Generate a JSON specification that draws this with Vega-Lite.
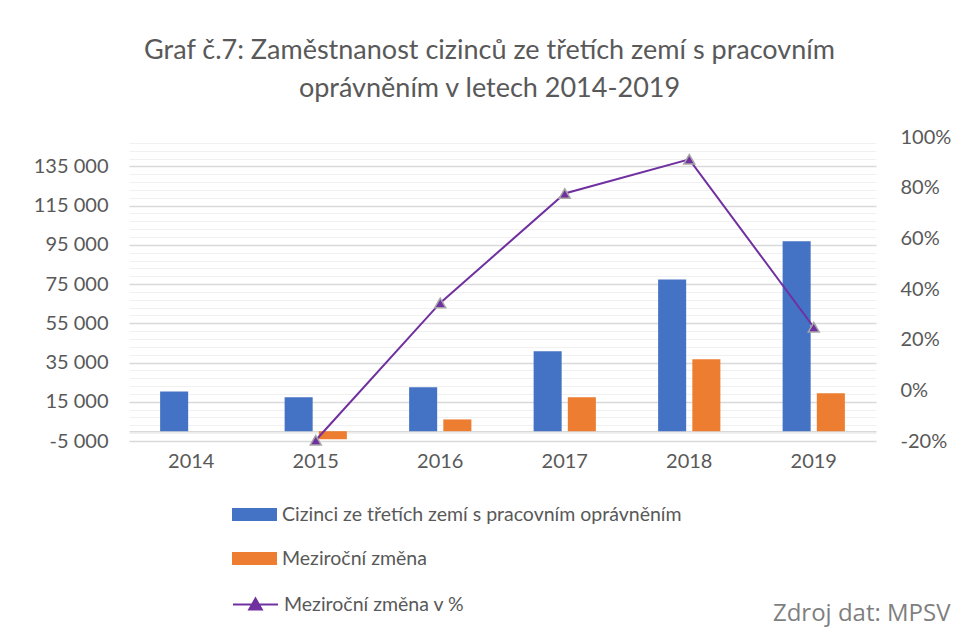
{
  "$schema": "https://vega.github.io/schema/vega-lite/v6.json",
  "width": 747,
  "height": 304,
  "autosize": {"type": "none"},
  "padding": {"left": 129, "top": 137, "right": 78, "bottom": 192},
  "background": "white",
  "config": {
    "locale": {"number": {"decimal": ",", "thousands": " ", "grouping": [3], "currency": ["", " Kč"], "minus": "-"}},
    "view": {"stroke": null},
    "font": "Lato",
    "axis": {"labelFont": "Lato", "labelColor": "#595959"}
  },
  "title": {
    "text": ["Graf č.7: Zaměstnanost cizinců ze třetích zemí s pracovním", "oprávněním v letech 2014-2019"],
    "font": "Lato",
    "fontSize": 27,
    "fontWeight": "normal",
    "color": "#595959",
    "lineHeight": 38,
    "anchor": "middle",
    "dx": -13,
    "offset": 24
  },
  "datasets": {
    "bars": [
      {"year": "2014", "series": "Cizinci ze třetích zemí s pracovním oprávněním", "value": 20300},
      {"year": "2015", "series": "Cizinci ze třetích zemí s pracovním oprávněním", "value": 17350},
      {"year": "2015", "series": "Meziroční změna", "value": -4100},
      {"year": "2016", "series": "Cizinci ze třetích zemí s pracovním oprávněním", "value": 22350},
      {"year": "2016", "series": "Meziroční změna", "value": 6000},
      {"year": "2017", "series": "Cizinci ze třetích zemí s pracovním oprávněním", "value": 40700},
      {"year": "2017", "series": "Meziroční změna", "value": 17300},
      {"year": "2018", "series": "Cizinci ze třetích zemí s pracovním oprávněním", "value": 77400},
      {"year": "2018", "series": "Meziroční změna", "value": 36650},
      {"year": "2019", "series": "Cizinci ze třetích zemí s pracovním oprávněním", "value": 96800},
      {"year": "2019", "series": "Meziroční změna", "value": 19300}
    ],
    "line": [
      {"year": "2015", "series": "Meziroční změna v %", "pct": -0.197},
      {"year": "2016", "series": "Meziroční změna v %", "pct": 0.345},
      {"year": "2017", "series": "Meziroční změna v %", "pct": 0.777},
      {"year": "2018", "series": "Meziroční změna v %", "pct": 0.912},
      {"year": "2019", "series": "Meziroční změna v %", "pct": 0.249}
    ]
  },
  "encoding": {
    "x": {
      "field": "year",
      "type": "ordinal",
      "scale": {"domain": ["2014", "2015", "2016", "2017", "2018", "2019"], "paddingInner": 0.5, "paddingOuter": 0.25},
      "axis": {
        "labelFontSize": 20,
        "labelColor": "#595959",
        "labelAngle": 0,
        "ticks": false,
        "domain": true,
        "domainColor": "#d9d9d9",
        "domainWidth": 1.5,
        "offset": -9.8,
        "labelPadding": 20,
        "title": "Zdroj dat: MPSV",
        "titleFont": "Open Sans",
        "titleFontSize": 24,
        "titleFontWeight": "normal",
        "titleColor": "#7f7f7f",
        "titleAnchor": "end",
        "titleAlign": "right",
        "titleBaseline": "alphabetic",
        "titleX": 821,
        "titleY": 189
      }
    }
  },
  "layer": [
    {
      "data": {"name": "bars"},
      "mark": {"type": "bar", "opacity": 0},
      "encoding": {
        "xOffset": {
          "field": "series",
          "sort": ["Cizinci ze třetích zemí s pracovním oprávněním", "Meziroční změna"],
          "scale": {"paddingInner": 0.18}
        },
        "y": {
          "field": "value",
          "type": "quantitative",
          "stack": null,
          "scale": {"domain": [-5000, 150000], "nice": false},
          "axis": {
            "orient": "left",
            "title": null,
            "values": [-1000, 3000, 7000, 11000, 19000, 23000, 27000, 31000, 39000, 43000, 47000, 51000, 59000, 63000, 67000, 71000, 79000, 83000, 87000, 91000, 99000, 103000, 107000, 111000, 119000, 123000, 127000, 131000, 139000, 143000, 147000],
            "labels": false,
            "grid": true,
            "gridColor": "#f0f0f0",
            "gridWidth": 1,
            "ticks": false,
            "domain": false
          }
        }
      }
    },
    {
      "data": {"name": "bars"},
      "mark": {"type": "bar"},
      "encoding": {
        "xOffset": {
          "field": "series",
          "sort": ["Cizinci ze třetích zemí s pracovním oprávněním", "Meziroční změna"],
          "scale": {"paddingInner": 0.18}
        },
        "y": {
          "field": "value",
          "type": "quantitative",
          "stack": null,
          "scale": {"domain": [-5000, 150000], "nice": false},
          "axis": {
            "orient": "left",
            "title": null,
            "format": ",d",
            "values": [-5000, 15000, 35000, 55000, 75000, 95000, 115000, 135000],
            "grid": true,
            "gridColor": "#d9d9d9",
            "gridWidth": 1.5,
            "ticks": false,
            "domain": false,
            "labelFontSize": 20,
            "labelColor": "#595959",
            "labelPadding": 21
          }
        },
        "y2": {"datum": 0},
        "color": {
          "field": "series",
          "type": "nominal",
          "scale": {
            "domain": ["Cizinci ze třetích zemí s pracovním oprávněním", "Meziroční změna"],
            "range": ["#4472c4", "#ed7d31"]
          },
          "legend": {
            "orient": "none",
            "legendX": 103,
            "legendY": 355,
            "title": null,
            "padding": 0,
            "direction": "vertical",
            "symbolType": "M-1,-0.29H1V0.29H-1Z",
            "symbolSize": 2025,
            "symbolStrokeWidth": 0,
            "labelFont": "Lato",
            "labelFontSize": 19.5,
            "labelColor": "#595959",
            "labelOffset": 5,
            "labelLimit": 600,
            "rowPadding": 12
          }
        }
      }
    },
    {
      "data": {"name": "line"},
      "mark": {"type": "line", "strokeWidth": 2},
      "encoding": {
        "y": {
          "field": "pct",
          "type": "quantitative",
          "scale": {"domain": [-0.2, 1.0], "nice": false},
          "axis": {
            "orient": "right",
            "title": null,
            "format": ".0%",
            "values": [-0.2, 0, 0.2, 0.4, 0.6, 0.8, 1.0],
            "grid": false,
            "ticks": false,
            "domain": false,
            "labelFontSize": 20,
            "labelColor": "#595959",
            "labelPadding": 24
          }
        },
        "stroke": {
          "field": "series",
          "type": "nominal",
          "scale": {"domain": ["Meziroční změna v %"], "range": ["#7030a0"]},
          "legend": {
            "orient": "none",
            "legendX": 103,
            "legendY": 444,
            "title": null,
            "padding": 0,
            "symbolType": "M-1,0H1M-0.28,0.22L0,-0.27L0.28,0.22Z",
            "symbolSize": 2025,
            "symbolStrokeWidth": 2,
            "symbolStrokeColor": "#7030a0",
            "symbolFillColor": "#7030a0",
            "labelFont": "Lato",
            "labelFontSize": 19.5,
            "labelColor": "#595959",
            "labelOffset": 5,
            "labelLimit": 600
          }
        }
      }
    },
    {
      "data": {"name": "line"},
      "mark": {"type": "point", "shape": "triangle-up", "filled": true, "fill": "#7030a0", "stroke": "#a6a6a6", "strokeWidth": 1.5, "size": 120, "opacity": 1},
      "encoding": {
        "y": {
          "field": "pct",
          "type": "quantitative",
          "scale": {"domain": [-0.2, 1.0], "nice": false},
          "axis": null
        }
      }
    }
  ],
  "resolve": {"scale": {"y": "independent"}, "axis": {"y": "independent"}}
}
